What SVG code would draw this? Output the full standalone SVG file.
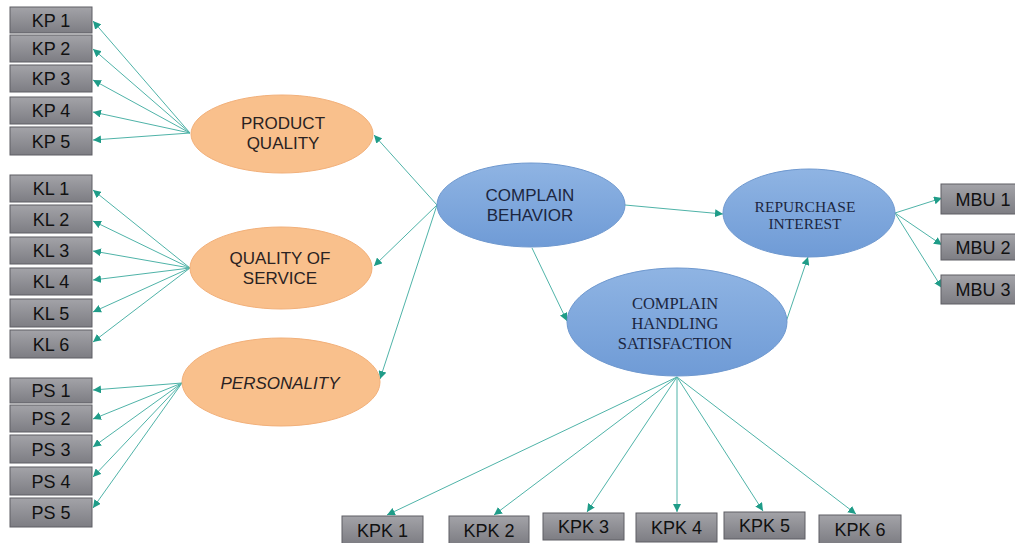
<svg xmlns="http://www.w3.org/2000/svg" width="1015" height="543" viewBox="0 0 1015 543">
<defs>
<linearGradient id="gbox" x1="0" y1="0" x2="0" y2="1">
<stop offset="0" stop-color="#a3a3a8"/>
<stop offset="1" stop-color="#7d7d83"/>
</linearGradient>
<linearGradient id="gblue" x1="0" y1="0" x2="0" y2="1">
<stop offset="0" stop-color="#8fb4e3"/>
<stop offset="1" stop-color="#6f9bd6"/>
</linearGradient>
<marker id="ah" viewBox="0 0 10 10" refX="10" refY="5" markerWidth="8" markerHeight="8" markerUnits="userSpaceOnUse" orient="auto">
<path d="M0,0 L10,5 L0,10 z" fill="#1f9c88"/>
</marker>
<style>
.box{fill:url(#gbox);stroke:#5e5e64;stroke-width:1}
.bt{font-family:"Liberation Sans",Arial,sans-serif;font-size:18px;fill:#111;text-anchor:middle}
.or{fill:#f9c08c;stroke:#f2b07a;stroke-width:1}
.bl{fill:url(#gblue);stroke:#6e98cf;stroke-width:1}
.ot{font-family:"Liberation Sans",Arial,sans-serif;font-size:17px;fill:#2a2222;text-anchor:middle}
.ct{font-family:"Liberation Sans",Arial,sans-serif;font-size:17px;fill:#1c2640;text-anchor:middle}
.tt{font-family:"Liberation Serif","Times New Roman",serif;font-size:16.5px;fill:#1c2640;text-anchor:middle}
.ln{stroke:#4fb3a8;stroke-width:1;fill:none;marker-end:url(#ah)}
</style>
</defs>
<g id="connectors">
<line class="ln" x1="190" y1="133" x2="93" y2="21"/>
<line class="ln" x1="190" y1="133" x2="93" y2="49"/>
<line class="ln" x1="190" y1="133" x2="93" y2="80"/>
<line class="ln" x1="190" y1="133" x2="93" y2="112"/>
<line class="ln" x1="190" y1="133" x2="93" y2="140"/>
<line class="ln" x1="190" y1="268" x2="93" y2="190"/>
<line class="ln" x1="190" y1="268" x2="93" y2="221"/>
<line class="ln" x1="190" y1="268" x2="93" y2="251"/>
<line class="ln" x1="190" y1="268" x2="93" y2="280"/>
<line class="ln" x1="190" y1="268" x2="93" y2="312"/>
<line class="ln" x1="190" y1="268" x2="93" y2="342"/>
<line class="ln" x1="182" y1="383" x2="93" y2="390"/>
<line class="ln" x1="182" y1="383" x2="93" y2="419"/>
<line class="ln" x1="182" y1="383" x2="93" y2="447"/>
<line class="ln" x1="182" y1="383" x2="93" y2="477"/>
<line class="ln" x1="182" y1="383" x2="93" y2="508"/>
<line class="ln" x1="437" y1="205" x2="374" y2="135"/>
<line class="ln" x1="437" y1="205" x2="374" y2="266"/>
<line class="ln" x1="437" y1="205" x2="380" y2="379"/>
<line class="ln" x1="625" y1="205" x2="723" y2="214"/>
<line class="ln" x1="532" y1="248" x2="567" y2="321"/>
<line class="ln" x1="786" y1="322" x2="808" y2="257"/>
<line class="ln" x1="895" y1="213" x2="942" y2="198"/>
<line class="ln" x1="895" y1="213" x2="942" y2="245"/>
<line class="ln" x1="895" y1="213" x2="942" y2="288"/>
<line class="ln" x1="677" y1="377" x2="387" y2="515"/>
<line class="ln" x1="677" y1="377" x2="494" y2="515"/>
<line class="ln" x1="677" y1="377" x2="587" y2="512"/>
<line class="ln" x1="677" y1="377" x2="677" y2="512"/>
<line class="ln" x1="677" y1="377" x2="763" y2="511"/>
<line class="ln" x1="677" y1="377" x2="856" y2="514"/>
</g>
<g id="KP1"><rect class="box" x="10" y="7" width="82" height="26"/><text class="bt" x="51" y="26.5">KP 1</text></g>
<g id="KP2"><rect class="box" x="10" y="35" width="82" height="27"/><text class="bt" x="51" y="55">KP 2</text></g>
<g id="KP3"><rect class="box" x="10" y="65" width="82" height="27"/><text class="bt" x="51" y="85">KP 3</text></g>
<g id="KP4"><rect class="box" x="10" y="97" width="82" height="27"/><text class="bt" x="51" y="117">KP 4</text></g>
<g id="KP5"><rect class="box" x="10" y="127" width="82" height="28"/><text class="bt" x="51" y="147.5">KP 5</text></g>
<g id="KL1"><rect class="box" x="10" y="175" width="82" height="27"/><text class="bt" x="51" y="195">KL 1</text></g>
<g id="KL2"><rect class="box" x="10" y="205" width="82" height="28"/><text class="bt" x="51" y="225.5">KL 2</text></g>
<g id="KL3"><rect class="box" x="10" y="237" width="82" height="27"/><text class="bt" x="51" y="257">KL 3</text></g>
<g id="KL4"><rect class="box" x="10" y="268" width="82" height="27"/><text class="bt" x="51" y="288">KL 4</text></g>
<g id="KL5"><rect class="box" x="10" y="299" width="82" height="28"/><text class="bt" x="51" y="319.5">KL 5</text></g>
<g id="KL6"><rect class="box" x="10" y="330" width="82" height="28"/><text class="bt" x="51" y="350.5">KL 6</text></g>
<g id="PS1"><rect class="box" x="10" y="378" width="82" height="25"/><text class="bt" x="51" y="397">PS 1</text></g>
<g id="PS2"><rect class="box" x="10" y="405" width="82" height="27"/><text class="bt" x="51" y="425">PS 2</text></g>
<g id="PS3"><rect class="box" x="10" y="435" width="82" height="28"/><text class="bt" x="51" y="455.5">PS 3</text></g>
<g id="PS4"><rect class="box" x="10" y="467" width="82" height="28"/><text class="bt" x="51" y="487.5">PS 4</text></g>
<g id="PS5"><rect class="box" x="10" y="498" width="82" height="29"/><text class="bt" x="51" y="519">PS 5</text></g>
<g id="MBU1"><rect class="box" x="941" y="184" width="82" height="30"/><text class="bt" x="983" y="205.5">MBU 1</text></g>
<g id="MBU2"><rect class="box" x="941" y="234" width="82" height="26"/><text class="bt" x="983" y="253.5">MBU 2</text></g>
<g id="MBU3"><rect class="box" x="941" y="275" width="82" height="29"/><text class="bt" x="983" y="296">MBU 3</text></g>
<g id="KPK1"><rect class="box" x="342" y="516" width="81" height="28"/><text class="bt" x="382.5" y="536.5">KPK 1</text></g>
<g id="KPK2"><rect class="box" x="449" y="516" width="80" height="28"/><text class="bt" x="489" y="536.5">KPK 2</text></g>
<g id="KPK3"><rect class="box" x="543" y="513" width="81" height="27"/><text class="bt" x="583.5" y="533">KPK 3</text></g>
<g id="KPK4"><rect class="box" x="636" y="513" width="81" height="29"/><text class="bt" x="676.5" y="534">KPK 4</text></g>
<g id="KPK5"><rect class="box" x="724" y="512" width="81" height="27"/><text class="bt" x="764.5" y="532">KPK 5</text></g>
<g id="KPK6"><rect class="box" x="819" y="515" width="82" height="29"/><text class="bt" x="860" y="536">KPK 6</text></g>
<g id="product-quality"><ellipse class="or" cx="282" cy="134" rx="91" ry="39"/><text class="ot" x="283" y="129">PRODUCT</text><text class="ot" x="283" y="149">QUALITY</text></g>
<g id="quality-of-service"><ellipse class="or" cx="281" cy="268" rx="91" ry="41"/><text class="ot" x="280" y="264">QUALITY OF</text><text class="ot" x="280" y="284">SERVICE</text></g>
<g id="personality"><ellipse class="or" cx="281" cy="382" rx="99" ry="44"/><text class="ot" x="280" y="389" font-style="italic">PERSONALITY</text></g>
<g id="complain-behavior"><ellipse class="bl" cx="531" cy="205" rx="94" ry="42"/><text class="ct" x="530" y="201">COMPLAIN</text><text class="ct" x="530" y="221">BEHAVIOR</text></g>
<g id="complain-handling-satisfaction"><ellipse class="bl" cx="677" cy="322" rx="110" ry="54"/><text class="tt" x="675" y="309">COMPLAIN</text><text class="tt" x="675" y="329">HANDLING</text><text class="tt" x="675" y="349">SATISFACTION</text></g>
<g id="repurchase-interest"><ellipse class="bl" cx="809" cy="213" rx="86" ry="44"/><text class="tt" x="805" y="212" style="font-size:15.5px">REPURCHASE</text><text class="tt" x="805" y="229" style="font-size:15.5px">INTEREST</text></g>
</svg>
